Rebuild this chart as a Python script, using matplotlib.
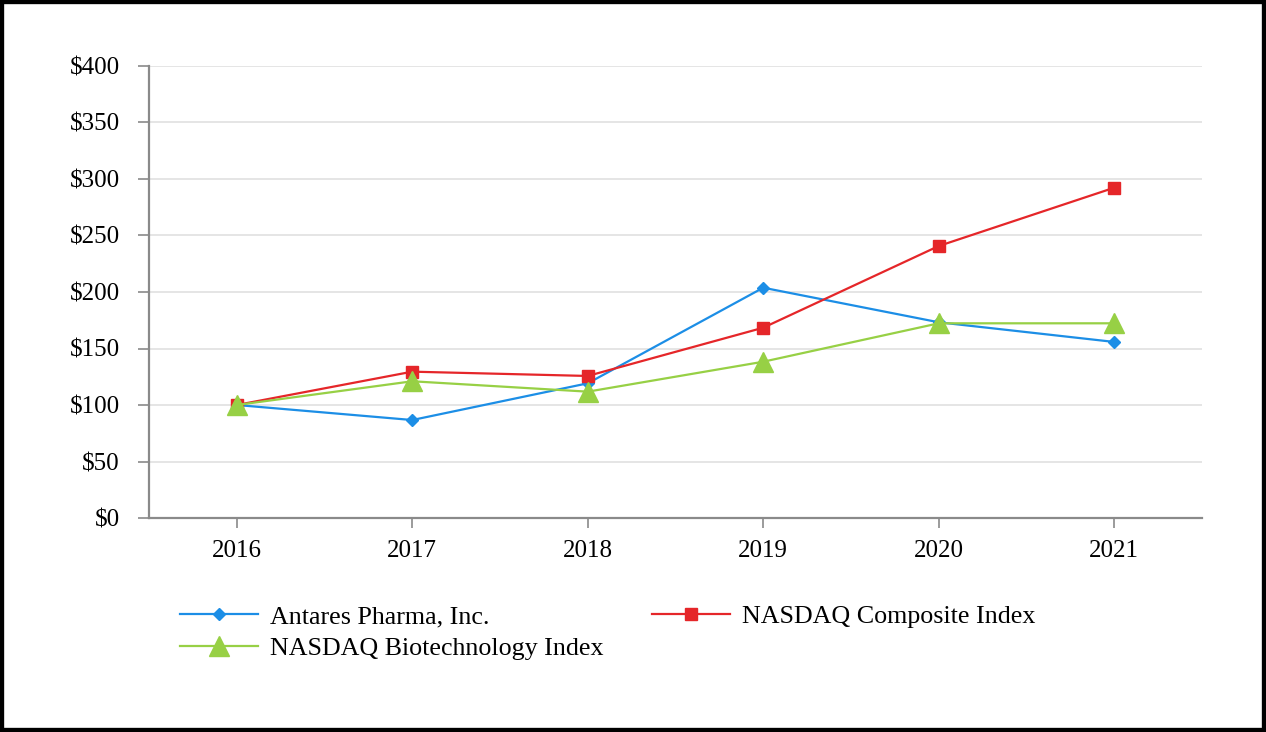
import matplotlib
matplotlib.use('Agg')
import matplotlib.pyplot as plt
from matplotlib.patches import Rectangle


# 数据
years = ['2016', '2017', '2018', '2019', '2020', '2021']
antares = [100, 86.7, 119.2, 203.8, 173.2, 155.8]
nasdaq_comp = [100, 129.5, 125.7, 168.4, 240.7, 292.3]
nasdaq_bio = [100, 121, 111.8, 138.3, 172.3, 172.3]
y_ticks = [0, 50, 100, 150, 200, 250, 300, 350, 400]

plt.rcParams['font.family'] = ['Liberation Serif', 'DejaVu Serif']

blue = '#1c8ee6'
red = '#e52629'
green = '#97d045'
axis_gray = '#8a8a8a'

fig = plt.figure(figsize=(12.66, 7.32), dpi=100)
ax = fig.add_axes([149 / 1266, 1 - 518 / 732, (1202 - 149) / 1266, (518 - 66) / 732])

x = list(range(len(years)))

ax.plot(x, antares, color=blue, lw=1.6, marker='D', markersize=6,
        label='Antares Pharma, Inc.', zorder=3)
ax.plot(x, nasdaq_comp, color=red, lw=1.6, marker='s', markersize=9,
        label='NASDAQ Composite Index', zorder=3)
ax.plot(x, nasdaq_bio, color=green, lw=1.6, marker='^', markersize=14,
        label='NASDAQ Biotechnology Index', zorder=3)

ax.set_xlim(-0.5, 5.5)
ax.set_ylim(0, 400)
ax.set_xticks(x)
ax.set_xticklabels(years)
ax.set_yticks(y_ticks)
ax.set_yticklabels(['$%d' % v for v in y_ticks])

ax.grid(axis='y', color='#e3e3e3', lw=1.3)
ax.set_axisbelow(True)

for side in ['top', 'right']:
    ax.spines[side].set_visible(False)
for side in ['left', 'bottom']:
    ax.spines[side].set_color(axis_gray)
    ax.spines[side].set_linewidth(1.6)

ax.tick_params(axis='y', length=8, width=1.2, color=axis_gray, pad=13,
               labelsize=18)
ax.tick_params(axis='x', length=7, width=1.2, color=axis_gray, pad=9,
               labelsize=18)

# 图例：按列排列，所以顺序调整一下
h, l = ax.get_legend_handles_labels()
order = [0, 2, 1]
fig.legend([h[i] for i in order], [l[i] for i in order],
           loc='upper left', bbox_to_anchor=(180 / 1266, 1 - 605 / 732),
           ncol=2, frameon=False, fontsize=18.7, handlelength=3.0,
           handletextpad=0.45, columnspacing=1.9, borderpad=0,
           borderaxespad=0, labelspacing=0.32)

# 外框
fig.patches.append(Rectangle((0, 0), 1, 1, transform=fig.transFigure,
                             fill=False, edgecolor='black', lw=6))

fig.savefig('out.png', dpi=100)
